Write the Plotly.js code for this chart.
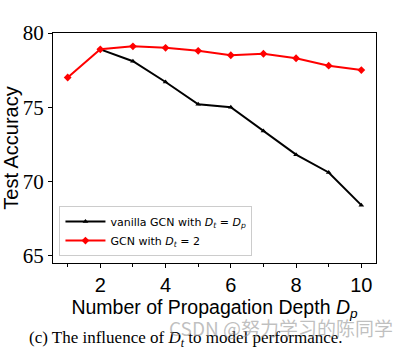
<!DOCTYPE html>
<html><head><meta charset="utf-8">
<script src="https://cdn.plot.ly/plotly-3.0.1.min.js"></script>
<style>body{margin:0;background:#fff}#c{width:409px;height:350px}</style>
</head><body><div id="c"></div>
<script>
const depth = [1,2,3,4,5,6,7,8,9,10];
const vanillaDepth = [2,3,4,5,6,7,8,9,10];
const vanillaAcc = [78.9,78.1,76.7,75.2,75.0,73.4,71.8,70.6,68.4];
const gcnAcc = [77.0,78.9,79.1,79.0,78.8,78.5,78.6,78.3,77.8,77.5];
const xTicks = [2,4,6,8,10];
const yTicks = [65,70,75,80];

const traces = [
  {x: vanillaDepth, y: vanillaAcc, mode:'lines+markers', name:'vanilla GCN with <i>D<sub>t</sub></i> = <i>D<sub>p</sub></i>',
   line:{color:'black', width:2}, marker:{symbol:'triangle-up', size:5, color:'black'}},
  {x: depth, y: gcnAcc, mode:'lines+markers', name:'GCN with <i>D<sub>t</sub></i> = 2',
   line:{color:'#ff0000', width:2}, marker:{symbol:'diamond', size:6, color:'#ff0000'}}
];
const layout = {
  width:409, height:350,
  margin:{l:53, r:33, t:33, b:87},
  paper_bgcolor:'white', plot_bgcolor:'white',
  showlegend:true,
  legend:{x:0.02, y:0.03, xanchor:'left', yanchor:'bottom', bgcolor:'rgba(255,255,255,0.9)',
    bordercolor:'#cccccc', borderwidth:1, font:{family:'DejaVu Sans', size:11, color:'black'}, tracegroupgap:0,
    itemwidth:40},
  xaxis:{range:[0.55,10.45], tickvals:xTicks, ticks:'outside', ticklen:4, tickcolor:'black',
    minor:{tickvals:[1,3,5,7,9], ticks:'outside', ticklen:3, tickcolor:'black'},
    showline:true, linecolor:'black', linewidth:1, mirror:true, showgrid:false, zeroline:false,
    tickfont:{family:'Liberation Sans', size:20, color:'black'},
    title:{text:'Number of Propagation Depth <i>D<sub>p</sub></i>', font:{family:'Liberation Sans', size:19.5, color:'black'}, standoff:0}},
  yaxis:{range:[64.5,80], tickvals:yTicks, ticks:'outside', ticklen:4, tickcolor:'black',
    showline:true, linecolor:'black', linewidth:1, mirror:true, showgrid:false, zeroline:false,
    tickfont:{family:'Liberation Serif', size:21, color:'black'},
    title:{text:'Test Accuracy', font:{family:'Liberation Sans', size:20, color:'black'}, standoff:4}},
  annotations:[
    {text:'(c) The influence of <i>D<sub>t</sub></i> to model performance.', xref:'paper', yref:'paper',
     x:0.413, y:-0.33, xanchor:'center', yanchor:'middle', showarrow:false,
     font:{family:'Liberation Serif', size:17, color:'black'}},
    {text:'CSDN @努力学习的陈同学', xref:'paper', yref:'paper', x:1.059, y:-0.28, xanchor:'right', yanchor:'middle',
     showarrow:false, font:{family:'Noto Sans CJK SC', size:19, color:'rgba(150,150,150,0.6)'}}
  ]
};
Plotly.newPlot('c', traces, layout, {displayModeBar:false, staticPlot:true});
</script></body></html>
